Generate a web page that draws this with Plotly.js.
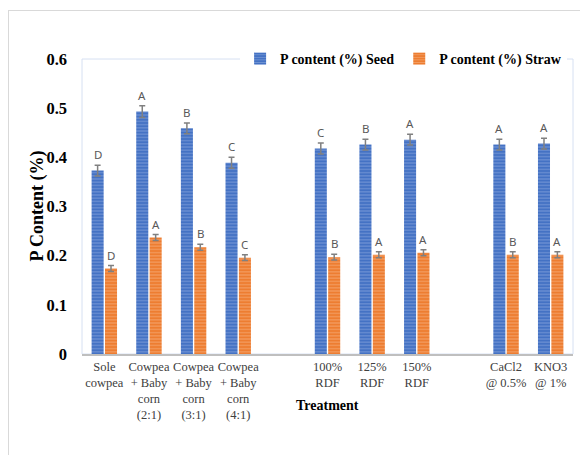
<!DOCTYPE html>
<html>
<head>
<meta charset="utf-8">
<script src="https://cdn.plot.ly/plotly-3.0.1.min.js"></script>
<style>
html,body{margin:0;padding:0;background:#fff;}
#wrap{position:relative;width:580px;height:455px;overflow:hidden;}
#frame{position:absolute;left:8px;top:10px;width:600px;height:470px;border:1px solid #d9d9d9;box-sizing:border-box;pointer-events:none;z-index:5;}
#chart{position:absolute;left:0;top:0;width:580px;height:455px;}
</style>
</head>
<body>
<div id="wrap"><div id="chart"></div><div id="frame"></div></div>
<script>
// Data
const categories = ["Sole<br>cowpea", "Cowpea<br>+ Baby<br>corn<br>(2:1)", "Cowpea<br>+ Baby<br>corn<br>(3:1)", "Cowpea<br>+ Baby<br>corn<br>(4:1)", "100%<br>RDF", "125%<br>RDF", "150%<br>RDF", "CaCl2<br>@ 0.5%", "KNO3<br>@ 1%"];
const slots = [0, 1, 2, 3, 5, 6, 7, 9, 10];
const seedValues = [0.373, 0.493, 0.459, 0.389, 0.418, 0.426, 0.436, 0.426, 0.428];
const seedErrors = [0.011, 0.012, 0.011, 0.011, 0.011, 0.011, 0.011, 0.011, 0.011];
const seedLetters = ["D", "A", "B", "C", "C", "B", "A", "A", "A"];
const strawValues = [0.174, 0.237, 0.217, 0.196, 0.197, 0.202, 0.206, 0.202, 0.202];
const strawErrors = [0.006, 0.006, 0.006, 0.006, 0.006, 0.006, 0.006, 0.006, 0.006];
const strawLetters = ["D", "A", "B", "C", "B", "A", "A", "B", "A"];
const yTicks = [0, 0.1, 0.2, 0.3, 0.4, 0.5, 0.6];
const yTickText = ["0", "0.1", "0.2", "0.3", "0.4", "0.5", "0.6"];

const bargap = 0.4;
const off = (1 - bargap) / 4;
const serif = 'Liberation Serif, Times New Roman, serif';

const seed = {
  type: 'bar', name: '<b>P content (%) Seed</b>', x: slots, y: seedValues,
  marker: {color: '#4472C4', line: {width: 0},
    pattern: {shape: '-', fgcolor: '#9DB5E2', bgcolor: '#4472C4', size: 3.2, solidity: 0.35, fillmode: 'overlay'}},
  error_y: {type: 'data', array: seedErrors, visible: true, color: '#808080', thickness: 1.5, width: 3}
};
const straw = {
  type: 'bar', name: '<b>P content (%) Straw</b>', x: slots, y: strawValues,
  marker: {color: '#ED7D31', line: {width: 0},
    pattern: {shape: '-', fgcolor: '#F8BE94', bgcolor: '#ED7D31', size: 3.2, solidity: 0.35, fillmode: 'overlay'}},
  error_y: {type: 'data', array: strawErrors, visible: true, color: '#808080', thickness: 1.5, width: 3}
};

const annotations = [];
slots.forEach((s, i) => {
  annotations.push({x: s - off, y: seedValues[i] + seedErrors[i], xref: 'x', yref: 'y', text: seedLetters[i],
    showarrow: false, yanchor: 'bottom', yshift: 1, font: {family: 'Noto Sans, Open Sans, sans-serif', size: 11.5, color: '#595959'}});
  annotations.push({x: s + off, y: strawValues[i] + strawErrors[i], xref: 'x', yref: 'y', text: strawLetters[i],
    showarrow: false, yanchor: 'bottom', yshift: 1, font: {family: 'Noto Sans, Open Sans, sans-serif', size: 11.5, color: '#595959'}});
});
annotations.push({xref: 'paper', yref: 'paper', x: 0.5, y: -0.173, xanchor: 'center', yanchor: 'middle',
  showarrow: false, text: '<b>Treatment</b>', font: {family: serif, size: 14, color: '#000'}});
annotations.push({xref: 'paper', yref: 'paper', x: -0.0915, y: 0.5, xanchor: 'center', yanchor: 'middle', textangle: -90,
  showarrow: false, text: '<b>P Content (%)</b>', font: {family: serif, size: 18, color: '#000'}});

const layout = {
  width: 580, height: 455,
  margin: {l: 82, r: 7, t: 59, b: 101},
  paper_bgcolor: '#fff', plot_bgcolor: '#fff',
  barmode: 'group', bargap: bargap, bargroupgap: 0.1,
  showlegend: true,
  legend: {orientation: 'h', x: 0.322, xanchor: 'left', y: 1.0, yanchor: 'middle',
    bgcolor: 'rgba(255,255,255,1)', itemwidth: 20, traceorder: 'normal', tracegroupgap: 0,
    font: {family: serif, size: 14, color: '#000'}},
  xaxis: {
    range: [-0.5, 10.5], tickvals: slots, ticktext: categories, tickangle: 0,
    showgrid: false, zeroline: false, showline: true, linecolor: '#BFBFBF', linewidth: 1.5,
    ticks: '', tickfont: {family: serif, size: 12.5, color: '#404040'}
  },
  yaxis: {
    range: [0, 0.6], tickvals: yTicks, ticktext: yTickText.map(t => '<b>' + t + '</b>'),
    showgrid: false, zeroline: false, showline: false, ticks: '', ticklabelstandoff: 14,
    tickfont: {family: serif, size: 16.5, color: '#000'}
  },
  shapes: [{type: 'rect', xref: 'paper', yref: 'paper', x0: 0, x1: 1, y0: 0, y1: 1,
    line: {color: '#D6E0F2', width: 1}, layer: 'below'}],
  annotations: annotations
};

Plotly.newPlot('chart', [seed, straw], layout, {displayModeBar: false, staticPlot: true});
</script>
</body>
</html>
